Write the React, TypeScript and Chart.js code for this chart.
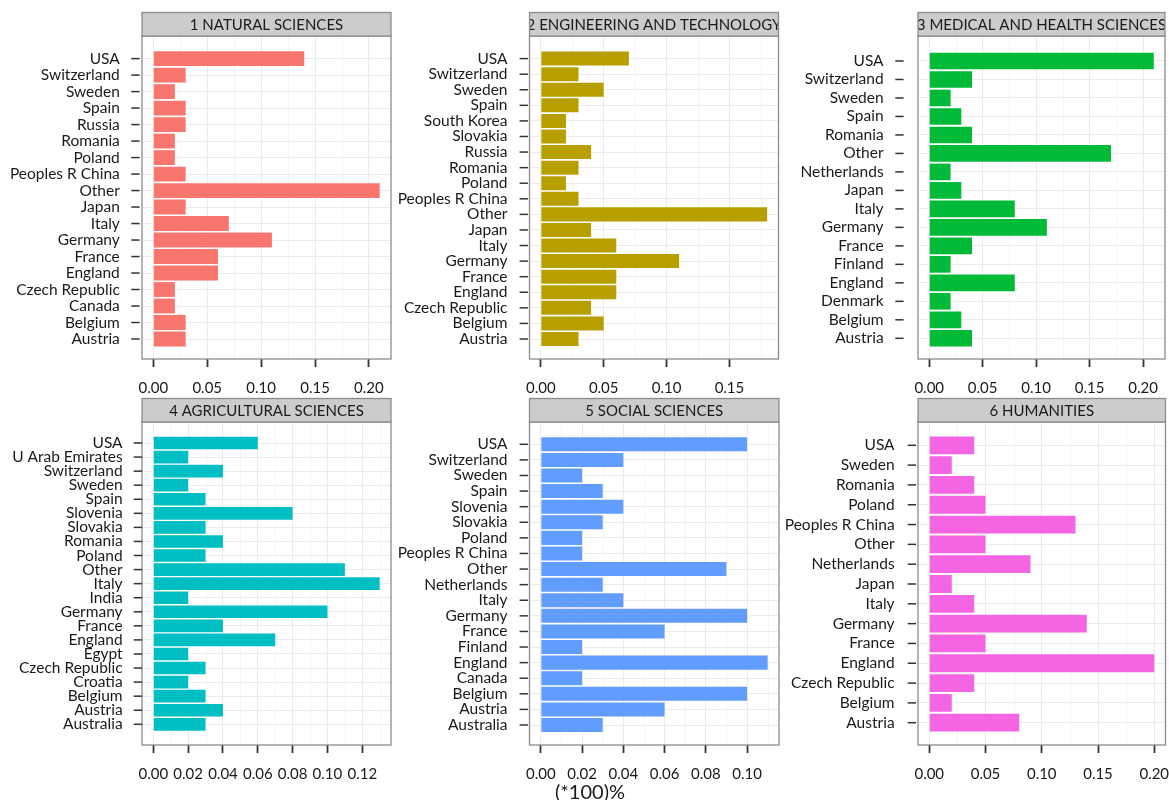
import React, { useEffect, useRef } from "react";
import { Chart, registerables } from "chart.js";

Chart.register(...registerables);

const FONT = "Lato, 'Open Sans', 'DejaVu Sans', sans-serif";
const TEXT_COLOR = "#1a1a1a";

// ---- shares per country, one pair of arrays per field ----
const naturalCountries = ["USA", "Switzerland", "Sweden", "Spain", "Russia", "Romania", "Poland", "Peoples R China", "Other", "Japan", "Italy", "Germany", "France", "England", "Czech Republic", "Canada", "Belgium", "Austria"];
const naturalShares = [0.14, 0.03, 0.02, 0.03, 0.03, 0.02, 0.02, 0.03, 0.21, 0.03, 0.07, 0.11, 0.06, 0.06, 0.02, 0.02, 0.03, 0.03];

const engineeringCountries = ["USA", "Switzerland", "Sweden", "Spain", "South Korea", "Slovakia", "Russia", "Romania", "Poland", "Peoples R China", "Other", "Japan", "Italy", "Germany", "France", "England", "Czech Republic", "Belgium", "Austria"];
const engineeringShares = [0.07, 0.03, 0.05, 0.03, 0.02, 0.02, 0.04, 0.03, 0.02, 0.03, 0.18, 0.04, 0.06, 0.11, 0.06, 0.06, 0.04, 0.05, 0.03];

const medicalCountries = ["USA", "Switzerland", "Sweden", "Spain", "Romania", "Other", "Netherlands", "Japan", "Italy", "Germany", "France", "Finland", "England", "Denmark", "Belgium", "Austria"];
const medicalShares = [0.21, 0.04, 0.02, 0.03, 0.04, 0.17, 0.02, 0.03, 0.08, 0.11, 0.04, 0.02, 0.08, 0.02, 0.03, 0.04];

const agriculturalCountries = ["USA", "U Arab Emirates", "Switzerland", "Sweden", "Spain", "Slovenia", "Slovakia", "Romania", "Poland", "Other", "Italy", "India", "Germany", "France", "England", "Egypt", "Czech Republic", "Croatia", "Belgium", "Austria", "Australia"];
const agriculturalShares = [0.06, 0.02, 0.04, 0.02, 0.03, 0.08, 0.03, 0.04, 0.03, 0.11, 0.13, 0.02, 0.1, 0.04, 0.07, 0.02, 0.03, 0.02, 0.03, 0.04, 0.03];

const socialCountries = ["USA", "Switzerland", "Sweden", "Spain", "Slovenia", "Slovakia", "Poland", "Peoples R China", "Other", "Netherlands", "Italy", "Germany", "France", "Finland", "England", "Canada", "Belgium", "Austria", "Australia"];
const socialShares = [0.1, 0.04, 0.02, 0.03, 0.04, 0.03, 0.02, 0.02, 0.09, 0.03, 0.04, 0.1, 0.06, 0.02, 0.11, 0.02, 0.1, 0.06, 0.03];

const humanitiesCountries = ["USA", "Sweden", "Romania", "Poland", "Peoples R China", "Other", "Netherlands", "Japan", "Italy", "Germany", "France", "England", "Czech Republic", "Belgium", "Austria"];
const humanitiesShares = [0.04, 0.02, 0.04, 0.05, 0.13, 0.05, 0.09, 0.02, 0.04, 0.14, 0.05, 0.2, 0.04, 0.02, 0.08];

const panelTitles = ["1 NATURAL SCIENCES", "2 ENGINEERING AND TECHNOLOGY", "3 MEDICAL AND HEALTH SCIENCES", "4 AGRICULTURAL SCIENCES", "5 SOCIAL SCIENCES", "6 HUMANITIES"];
const panelCountries = [naturalCountries, engineeringCountries, medicalCountries, agriculturalCountries, socialCountries, humanitiesCountries];
const panelShares = [naturalShares, engineeringShares, medicalShares, agriculturalShares, socialShares, humanitiesShares];
const tickSteps = [0.05, 0.05, 0.05, 0.02, 0.02, 0.05];
const axisTitle = "(*100)%";

// ---- layout and styling of the 3 x 2 grid ----
const panelColors = ["#F8766D", "#B79F00", "#00BA38", "#00BFC4", "#619CFF", "#F564E3"];

interface PanelBox {
  left: number; top: number; width: number; height: number;
  frame: [number, number, number, number]; // l, t, r, b in page pixels
  padTop: number; padBottom: number; // first/last category distance from frame
  tickGap: number; labelGap: number;
}

const panelBoxes: PanelBox[] = [
  { left: 0, top: 0, width: 392, height: 395, frame: [142, 36, 391, 359], padTop: 22.6, padBottom: 20, tickGap: 2.4, labelGap: 22.2 },
  { left: 392, top: 0, width: 388, height: 395, frame: [529.5, 36, 778.5, 359], padTop: 22.6, padBottom: 20, tickGap: 1.6, labelGap: 22 },
  { left: 780, top: 0, width: 389, height: 395, frame: [918, 36, 1165, 359], padTop: 25, padBottom: 20.7, tickGap: 14.4, labelGap: 34.4 },
  { left: 0, top: 395, width: 392, height: 405, frame: [142, 422, 391, 745], padTop: 21, padBottom: 20.7, tickGap: 0, labelGap: 19.4 },
  { left: 392, top: 395, width: 388, height: 405, frame: [529.5, 422, 779, 745], padTop: 22.3, padBottom: 20, tickGap: 1.6, labelGap: 22 },
  { left: 780, top: 395, width: 389, height: 405, frame: [918, 422, 1165.5, 745], padTop: 23.3, padBottom: 22.3, tickGap: 2, labelGap: 23.4 },
];

const HEADER_H = 23.5;

function facetDecor(box: PanelBox, title: string, step: number) {
  return {
    id: "facetDecor",
    afterLayout(chart: any) {
      // place the first and last category at fixed distances from the frame
      const y: any = chart.scales.y;
      const n = chart.data.labels.length;
      const h = y.bottom - y.top;
      const s = (h - box.padTop - box.padBottom) / (n - 1);
      y._startValue = -box.padTop / s;
      y._valueRange = n - 1 + (box.padTop + box.padBottom) / s;
    },
    beforeDraw(chart: any) {
      const { ctx, chartArea: a } = chart;
      const x = chart.scales.x;
      ctx.save();
      ctx.strokeStyle = "#f4f4f4";
      ctx.lineWidth = 1;
      const k0 = Math.ceil((x.min - step / 2) / step);
      for (let k = k0; ; k++) {
        const v = k * step + step / 2;
        if (v > x.max) break;
        if (v < x.min) continue;
        const px = Math.round(x.getPixelForValue(v)) + 0.5;
        ctx.beginPath();
        ctx.moveTo(px, a.top);
        ctx.lineTo(px, a.bottom);
        ctx.stroke();
      }
      ctx.restore();
    },
    afterDraw(chart: any) {
      const { ctx, chartArea: a } = chart;
      const y = chart.scales.y;
      ctx.save();
      // panel frame
      ctx.strokeStyle = "#8c8c8c";
      ctx.lineWidth = 1.3;
      ctx.strokeRect(a.left, a.top, a.right - a.left, a.bottom - a.top);
      // strip header
      const hy = a.top - HEADER_H;
      ctx.fillStyle = "#cccccc";
      ctx.fillRect(a.left, hy, a.right - a.left, HEADER_H);
      ctx.strokeRect(a.left, hy, a.right - a.left, HEADER_H);
      ctx.beginPath();
      ctx.rect(a.left + 0.7, hy, a.right - a.left - 1.4, HEADER_H);
      ctx.clip();
      ctx.fillStyle = TEXT_COLOR;
      ctx.font = `15px ${FONT}`;
      ctx.textAlign = "center";
      ctx.textBaseline = "middle";
      ctx.fillText(title, (a.left + a.right) / 2, hy + HEADER_H / 2 + 1);
      ctx.restore();
      // category tick marks
      ctx.save();
      ctx.strokeStyle = "#333333";
      ctx.lineWidth = 1.5;
      const n = chart.data.labels.length;
      for (let i = 0; i < n; i++) {
        const py = y.getPixelForTick(i);
        ctx.beginPath();
        ctx.moveTo(a.left - box.tickGap - 8.3, py);
        ctx.lineTo(a.left - box.tickGap, py);
        ctx.stroke();
      }
      ctx.restore();
    },
  };
}

function clearScalePadding(s: any) {
  s.paddingTop = 0;
  s.paddingBottom = 0;
  s.paddingLeft = 0;
  s.paddingRight = 0;
}

function FacetPanel({ index }: { index: number }) {
  const ref = useRef<HTMLCanvasElement>(null);
  const box = panelBoxes[index];

  useEffect(() => {
    if (!ref.current) return;
    const countries = panelCountries[index];
    const shares = panelShares[index];
    const step = tickSteps[index];
    const maxShare = Math.max(...shares);
    const pad = maxShare * 0.05;
    const frameLeft = box.frame[0] - box.left;
    const frameTop = box.frame[1] - box.top;
    const frameRight = box.frame[2] - box.left;
    const frameBottom = box.frame[3] - box.top;

    const chart = new Chart(ref.current, {
      type: "bar",
      data: {
        labels: countries,
        datasets: [
          {
            data: shares,
            backgroundColor: panelColors[index],
            borderWidth: 0,
            categoryPercentage: 1,
            barPercentage: 0.9,
          },
        ],
      },
      options: {
        indexAxis: "y",
        animation: false,
        responsive: false,
        maintainAspectRatio: false,
        events: [],
        layout: { padding: { top: frameTop, right: box.width - frameRight, left: 0, bottom: 0 } },
        plugins: { legend: { display: false }, tooltip: { enabled: false }, title: { display: false } },
        scales: {
          x: {
            type: "linear",
            min: -pad,
            max: maxShare + pad,
            border: { display: false },
            grid: { color: "#ebebeb", lineWidth: 1, drawTicks: true, tickLength: 8, tickColor: "#333333", tickWidth: 1.8 },
            ticks: {
              stepSize: step,
              includeBounds: false,
              autoSkip: false,
              maxRotation: 0,
              padding: 12,
              color: TEXT_COLOR,
              font: { family: FONT, size: 15 },
              callback: (v: any) => Number(v).toFixed(2),
            },
            afterFit: (s: any) => {
              s.height = box.height - frameBottom;
              clearScalePadding(s);
            },
          },
          y: {
            type: "category",
            offset: false,
            border: { display: false },
            grid: { color: "#ebebeb", lineWidth: 1, drawTicks: false, offset: false },
            ticks: { autoSkip: false, padding: box.labelGap, color: TEXT_COLOR, font: { family: FONT, size: 15.5 } },
            afterFit: (s: any) => {
              s.width = frameLeft;
              clearScalePadding(s);
            },
          },
        },
      } as any,
      plugins: [facetDecor(box, panelTitles[index], step)],
    });
    return () => chart.destroy();
  }, [index]);

  return (
    <canvas
      ref={ref}
      width={box.width}
      height={box.height}
      style={{ position: "absolute", left: box.left, top: box.top, width: box.width, height: box.height }}
    />
  );
}

export default function App() {
  return (
    <div style={{ position: "absolute", left: 0, top: 0, width: 1169, height: 800, background: "#ffffff", overflow: "hidden" }}>
      {panelTitles.map((_, i) => (
        <FacetPanel key={i} index={i} />
      ))}
      <div
        style={{
          position: "absolute",
          left: 590,
          top: 791,
          transform: "translate(-50%, -50%)",
          fontFamily: FONT,
          fontSize: 20,
          lineHeight: 1,
          color: TEXT_COLOR,
          whiteSpace: "nowrap",
        }}
      >
        {axisTitle}
      </div>
    </div>
  );
}
